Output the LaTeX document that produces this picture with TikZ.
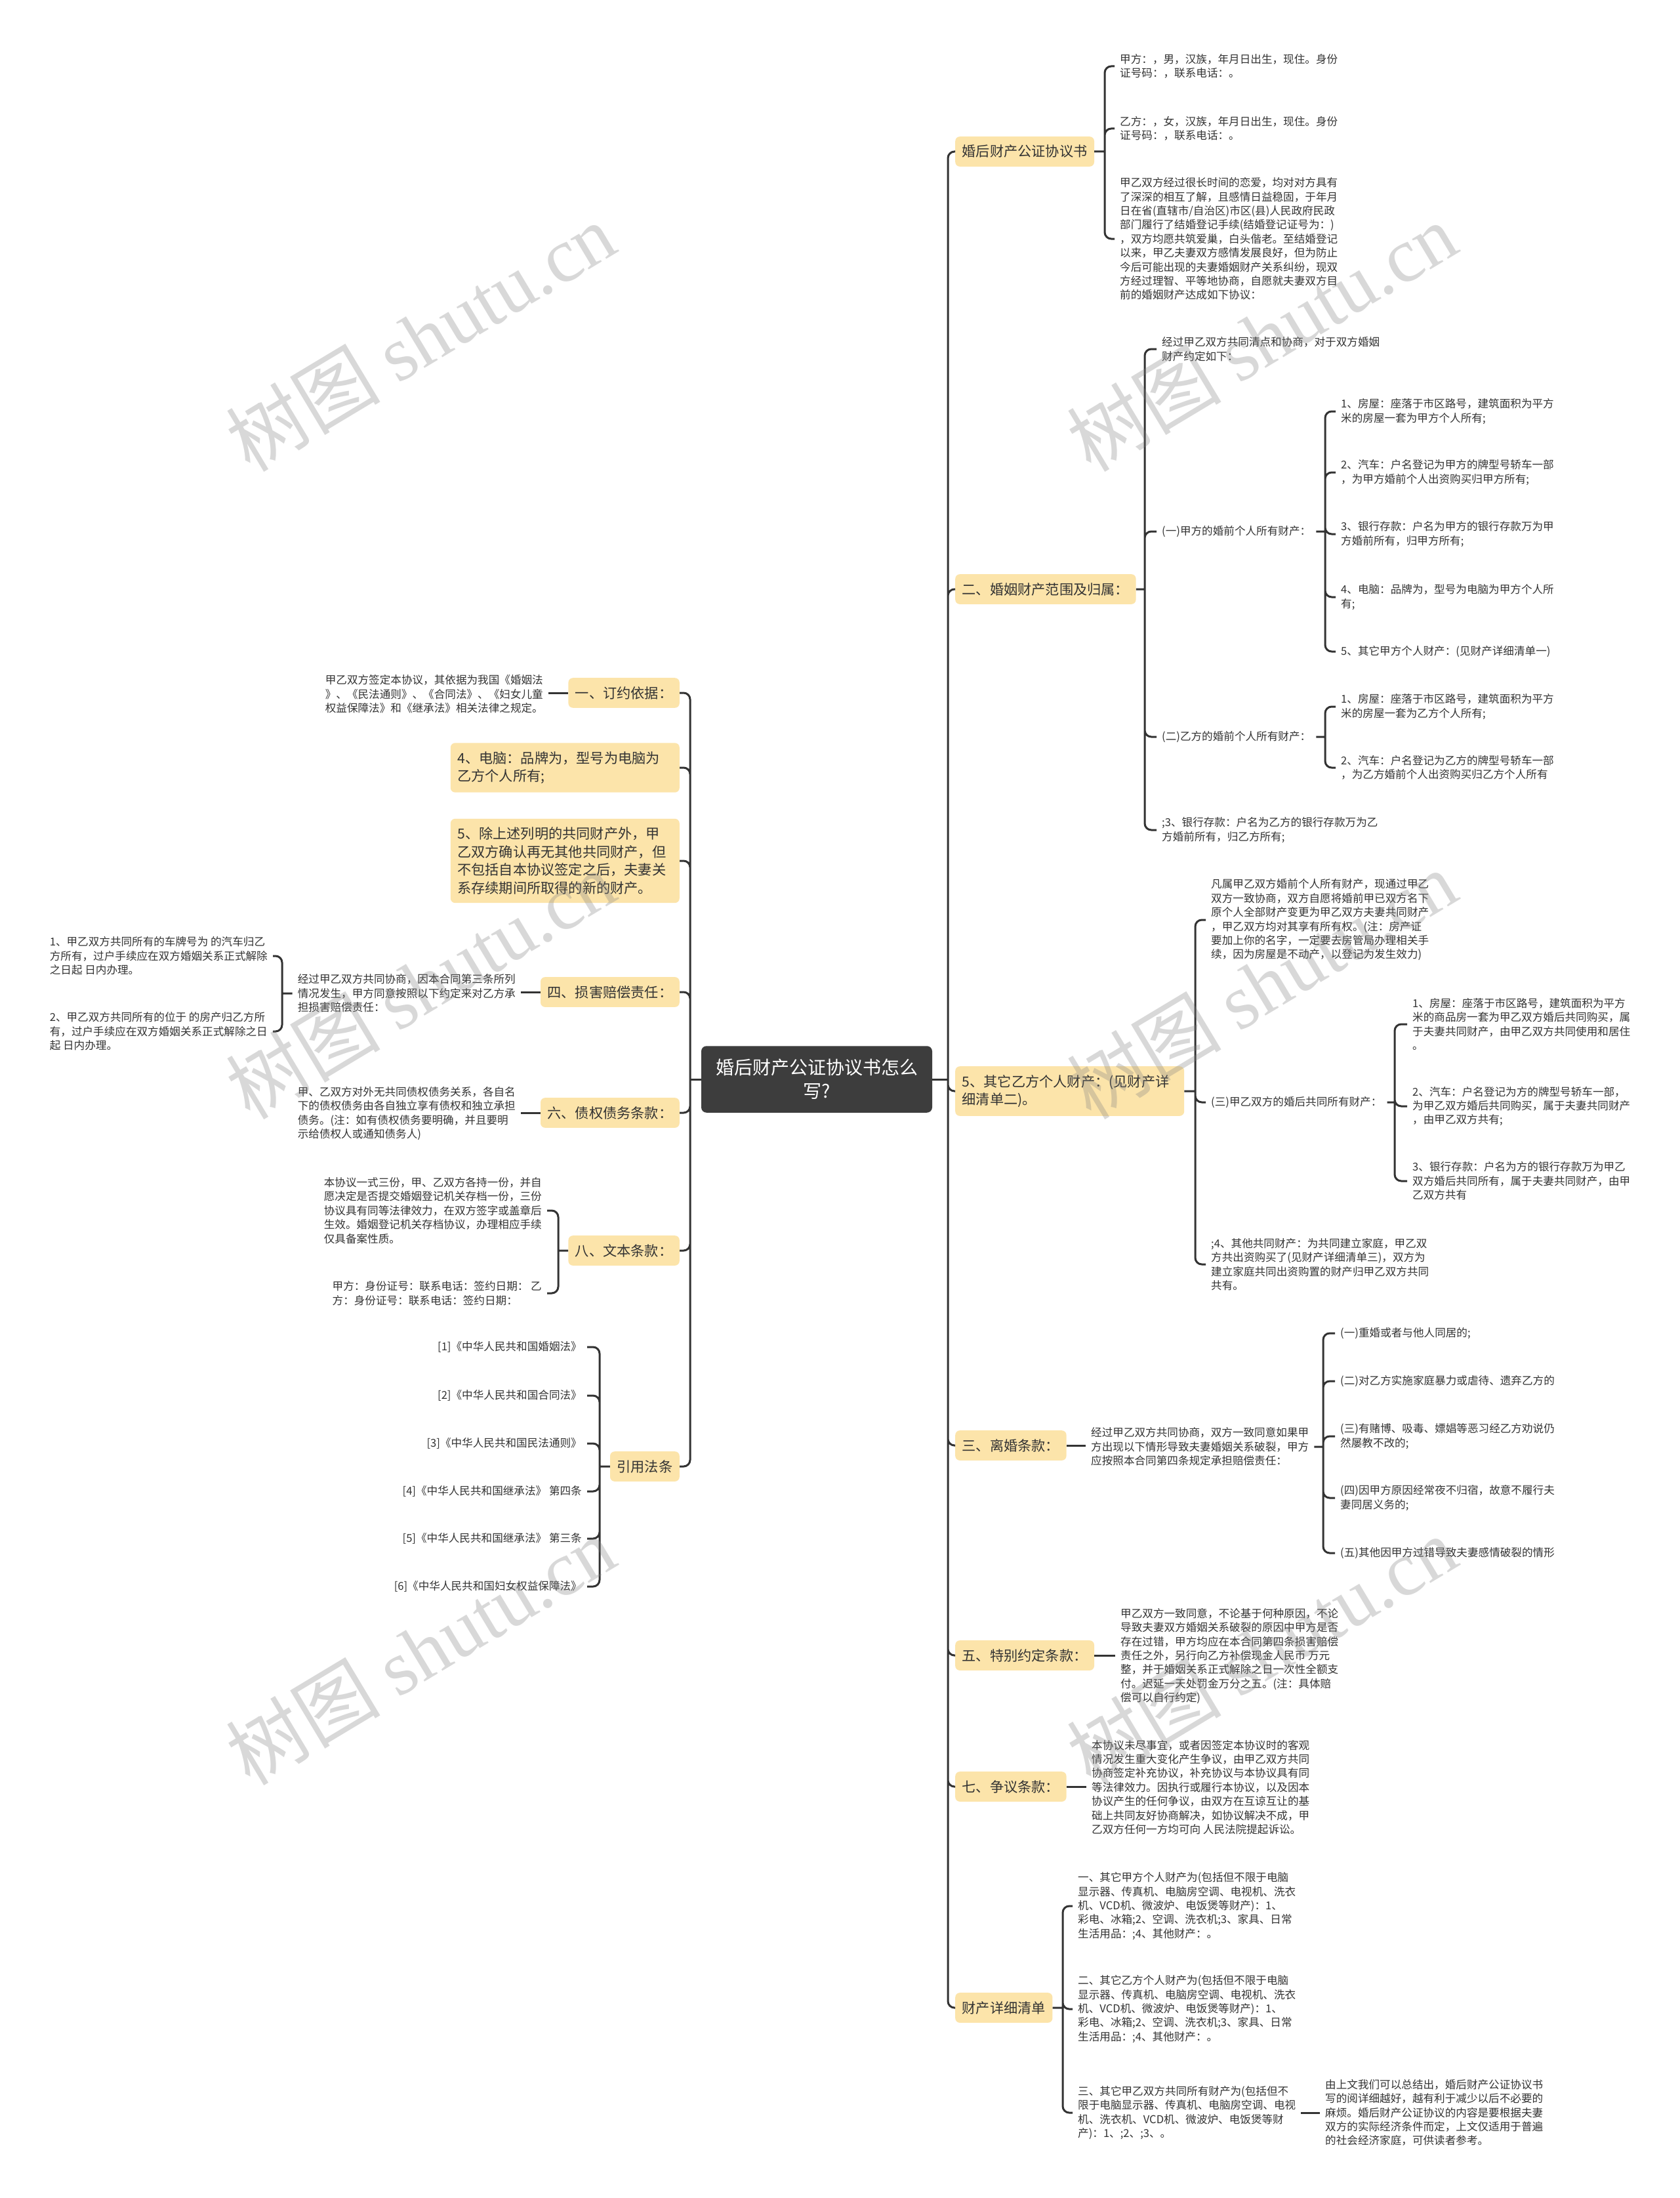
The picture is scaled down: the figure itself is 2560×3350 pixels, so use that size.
\documentclass[tikz,border=0pt]{standalone}
\usepackage{fontspec}
\usepackage{xcolor}
\usepackage{tikz}
\usetikzlibrary{positioning}
\newfontfamily\cjk{Noto Sans CJK SC}
\newfontfamily\wmlatin{Liberation Serif}
\definecolor{hubgray}{HTML}{3D3D3D}
\definecolor{topicfill}{HTML}{FCE4AA}
\definecolor{wiregray}{HTML}{333333}
\newcommand\hubfont{\cjk\fontsize{28}{36}\selectfont}
\newcommand\branchfont{\cjk\fontsize{21.2}{27.5}\selectfont}
\newcommand\notefont{\cjk\fontsize{16.6}{21.4}\selectfont}
\newcommand\wmtext{{\cjk 树图} {\wmlatin shutu.cn}}

\begin{document}
\begin{tikzpicture}[x=1pt,y=-1pt,
  hub/.style={fill=hubgray,text=white,rounded corners=8pt,font=\hubfont,align=center,inner xsep=22pt,inner ysep=20pt},
  branch/.style={fill=topicfill,text=wiregray,rounded corners=7pt,font=\branchfont,align=left,inner xsep=10.5pt,inner ysep=13pt},
  note/.style={text=wiregray,font=\notefont,align=left,inner xsep=8pt,inner ysep=2pt},
  wire/.style={draw=wiregray,line width=3pt,rounded corners=10pt},
  wmark/.style={text=gray,opacity=0.3,rotate=31,font=\cjk\fontsize{118}{118}\selectfont}]
\useasboundingbox[fill=white] (0,0) rectangle (2560,3350);

\node[hub] (root) at (1245,1645) {婚后财产公证协议书怎么\\写?};

% right side
\node[branch,anchor=west] (sign) at (1456,231) {婚后财产公证协议书};
\node[note,anchor=west] (signA) at (1699,101) {甲方：，男，汉族，年月日出生，现住。身份\\证号码：，联系电话：。};
\node[note,anchor=west] (signB) at (1699,196) {乙方：，女，汉族，年月日出生，现住。身份\\证号码：，联系电话：。};
\node[note,anchor=west] (signC) at (1699,364) {甲乙双方经过很长时间的恋爱，均对对方具有\\了深深的相互了解，且感情日益稳固，于年月\\日在省(直辖市/自治区)市区(县)人民政府民政\\部门履行了结婚登记手续(结婚登记证号为：)\\，双方均愿共筑爱巢，白头偕老。至结婚登记\\以来，甲乙夫妻双方感情发展良好，但为防止\\今后可能出现的夫妻婚姻财产关系纠纷，现双\\方经过理智、平等地协商，自愿就夫妻双方目\\前的婚姻财产达成如下协议：};

\node[branch,anchor=west] (own) at (1456,898) {二、婚姻财产范围及归属：};
\node[note,anchor=west] (ownA) at (1763,532) {经过甲乙双方共同清点和协商，对于双方婚姻\\财产约定如下：};
\node[note,anchor=west] (ownB) at (1763,810) {(一)甲方的婚前个人所有财产：};
\node[note,anchor=west] (preA) at (2036,627) {1、房屋：座落于市区路号，建筑面积为平方\\米的房屋一套为甲方个人所有;};
\node[note,anchor=west] (preB) at (2036,720) {2、汽车：户名登记为甲方的牌型号轿车一部\\，为甲方婚前个人出资购买归甲方所有;};
\node[note,anchor=west] (preC) at (2036,814) {3、银行存款：户名为甲方的银行存款万为甲\\方婚前所有，归甲方所有;};
\node[note,anchor=west] (preD) at (2036,910) {4、电脑：品牌为，型号为电脑为甲方个人所\\有;};
\node[note,anchor=west] (preE) at (2036,993) {5、其它甲方个人财产：(见财产详细清单一)};
\node[note,anchor=west] (ownC) at (1763,1123) {(二)乙方的婚前个人所有财产：};
\node[note,anchor=west] (prfA) at (2036,1077) {1、房屋：座落于市区路号，建筑面积为平方\\米的房屋一套为乙方个人所有;};
\node[note,anchor=west] (prfB) at (2036,1170) {2、汽车：户名登记为乙方的牌型号轿车一部\\，为乙方婚前个人出资购买归乙方个人所有};
\node[note,anchor=west] (ownD) at (1763,1265) {;3、银行存款：户名为乙方的银行存款万为乙\\方婚前所有，归乙方所有;};

\node[branch,anchor=west,text width=328pt] (other) at (1456,1663) {5、其它乙方个人财产：(见财产详\\细清单二)。};
\node[note,anchor=west] (otherA) at (1838,1402) {凡属甲乙双方婚前个人所有财产，现通过甲乙\\双方一致协商，双方自愿将婚前甲已双方名下\\原个人全部财产变更为甲乙双方夫妻共同财产\\，甲乙双方均对其享有所有权。(注：房产证\\要加上你的名字，一定要去房管局办理相关手\\续，因为房屋是不动产，以登记为发生效力)};
\node[note,anchor=west] (otherB) at (1838,1680) {(三)甲乙双方的婚后共同所有财产：};
\node[note,anchor=west] (jointA) at (2145,1561) {1、房屋：座落于市区路号，建筑面积为平方\\米的商品房一套为甲乙双方婚后共同购买，属\\于夫妻共同财产，由甲乙双方共同使用和居住\\。};
\node[note,anchor=west] (jointB) at (2145,1686) {2、汽车：户名登记为方的牌型号轿车一部，\\为甲乙双方婚后共同购买，属于夫妻共同财产\\，由甲乙双方共有;};
\node[note,anchor=west] (jointC) at (2145,1800) {3、银行存款：户名为方的银行存款万为甲乙\\双方婚后共同所有，属于夫妻共同财产，由甲\\乙双方共有};
\node[note,anchor=west] (otherC) at (1838,1927) {;4、其他共同财产：为共同建立家庭，甲乙双\\方共出资购买了(见财产详细清单三)，双方为\\建立家庭共同出资购置的财产归甲乙双方共同\\共有。};

\node[branch,anchor=west] (divorce) at (1456,2203) {三、离婚条款：};
\node[note,anchor=west] (divA) at (1655,2205) {经过甲乙双方共同协商，双方一致同意如果甲\\方出现以下情形导致夫妻婚姻关系破裂，甲方\\应按照本合同第四条规定承担赔偿责任：};
\node[note,anchor=west] (caseA) at (2035,2032) {(一)重婚或者与他人同居的;};
\node[note,anchor=west] (caseB) at (2035,2105) {(二)对乙方实施家庭暴力或虐待、遗弃乙方的};
\node[note,anchor=west] (caseC) at (2035,2189) {(三)有赌博、吸毒、嫖娼等恶习经乙方劝说仍\\然屡教不改的;};
\node[note,anchor=west] (caseD) at (2035,2283) {(四)因甲方原因经常夜不归宿，故意不履行夫\\妻同居义务的;};
\node[note,anchor=west] (caseE) at (2035,2367) {(五)其他因甲方过错导致夫妻感情破裂的情形};

\node[branch,anchor=west] (special) at (1456,2523) {五、特别约定条款：};
\node[note,anchor=west] (speA) at (1700,2524) {甲乙双方一致同意，不论基于何种原因，不论\\导致夫妻双方婚姻关系破裂的原因中甲方是否\\存在过错，甲方均应在本合同第四条损害赔偿\\责任之外，另行向乙方补偿现金人民币 万元\\整，并于婚姻关系正式解除之日一次性全额支\\付。迟延一天处罚金万分之五。(注：具体赔\\偿可以自行约定)};

\node[branch,anchor=west] (dispute) at (1456,2723) {七、争议条款：};
\node[note,anchor=west] (disA) at (1656,2724) {本协议未尽事宜，或者因签定本协议时的客观\\情况发生重大变化产生争议，由甲乙双方共同\\协商签定补充协议，补充协议与本协议具有同\\等法律效力。因执行或履行本协议，以及因本\\协议产生的任何争议，由双方在互谅互让的基\\础上共同友好协商解决，如协议解决不成，甲\\乙双方任何一方均可向 人民法院提起诉讼。};

\node[branch,anchor=west] (list) at (1456,3060) {财产详细清单};
\node[note,anchor=west] (listA) at (1635,2905) {一、其它甲方个人财产为(包括但不限于电脑\\显示器、传真机、电脑房空调、电视机、洗衣\\机、VCD机、微波炉、电饭煲等财产)：1、\\彩电、冰箱;2、空调、洗衣机;3、家具、日常\\生活用品：;4、其他财产：。};
\node[note,anchor=west] (listB) at (1635,3062) {二、其它乙方个人财产为(包括但不限于电脑\\显示器、传真机、电脑房空调、电视机、洗衣\\机、VCD机、微波炉、电饭煲等财产)：1、\\彩电、冰箱;2、空调、洗衣机;3、家具、日常\\生活用品：;4、其他财产：。};
\node[note,anchor=west] (listC) at (1635,3220) {三、其它甲乙双方共同所有财产为(包括但不\\限于电脑显示器、传真机、电脑房空调、电视\\机、洗衣机、VCD机、微波炉、电饭煲等财\\产)：1、;2、;3、。};
\node[note,anchor=west] (listD) at (2012,3220) {由上文我们可以总结出，婚后财产公证协议书\\写的阅详细越好，越有利于减少以后不必要的\\麻烦。婚后财产公证协议的内容是要根据夫妻\\双方的实际经济条件而定，上文仅适用于普遍\\的社会经济家庭，可供读者参考。};

% left side
\node[branch,anchor=east] (basis) at (1036,1056) {一、订约依据：};
\node[note,anchor=east] (basisA) at (836,1058) {甲乙双方签定本协议，其依据为我国《婚姻法\\》、《民法通则》、《合同法》、《妇女儿童\\权益保障法》和《继承法》相关法律之规定。};
\node[branch,anchor=east,text width=328pt] (pc) at (1036,1170) {4、电脑：品牌为，型号为电脑为\\乙方个人所有;};
\node[branch,anchor=east,text width=328pt] (rest) at (1036,1312) {5、除上述列明的共同财产外，甲\\乙双方确认再无其他共同财产，但\\不包括自本协议签定之后，夫妻关\\系存续期间所取得的新的财产。};
\node[branch,anchor=east] (damage) at (1036,1512) {四、损害赔偿责任：};
\node[note,anchor=east] (damA) at (794,1514) {经过甲乙双方共同协商，因本合同第三条所列\\情况发生，甲方同意按照以下约定来对乙方承\\担损害赔偿责任：};
\node[note,anchor=east] (damB) at (416,1457) {1、甲乙双方共同所有的车牌号为 的汽车归乙\\方所有，过户手续应在双方婚姻关系正式解除\\之日起 日内办理。};
\node[note,anchor=east] (damC) at (416,1572) {2、甲乙双方共同所有的位于 的房产归乙方所\\有，过户手续应在双方婚姻关系正式解除之日\\起 日内办理。};
\node[branch,anchor=east] (debt) at (1036,1696) {六、债权债务条款：};
\node[note,anchor=east] (debtA) at (794,1697) {甲、乙双方对外无共同债权债务关系，各自名\\下的债权债务由各自独立享有债权和独立承担\\债务。(注：如有债权债务要明确，并且要明\\示给债权人或通知债务人)};
\node[branch,anchor=east] (copies) at (1036,1906) {八、文本条款：};
\node[note,anchor=east] (copA) at (834,1845) {本协议一式三份，甲、乙双方各持一份，并自\\愿决定是否提交婚姻登记机关存档一份，三份\\协议具有同等法律效力，在双方签字或盖章后\\生效。婚姻登记机关存档协议，办理相应手续\\仅具备案性质。};
\node[note,anchor=east] (copB) at (834,1971) {甲方：身份证号：联系电话：签约日期： 乙\\方：身份证号：联系电话：签约日期：};
\node[branch,anchor=east] (laws) at (1036,2235) {引用法条};
\node[note,anchor=east,align=right] (lawA) at (895,2053) {[1]《中华人民共和国婚姻法》};
\node[note,anchor=east,align=right] (lawB) at (895,2127) {[2]《中华人民共和国合同法》};
\node[note,anchor=east,align=right] (lawC) at (895,2200) {[3]《中华人民共和国民法通则》};
\node[note,anchor=east,align=right] (lawD) at (895,2273) {[4]《中华人民共和国继承法》 第四条};
\node[note,anchor=east,align=right] (lawE) at (895,2345) {[5]《中华人民共和国继承法》 第三条};
\node[note,anchor=east,align=right] (lawF) at (895,2418) {[6]《中华人民共和国妇女权益保障法》};

% junctions
\coordinate (rj) at (1445,1645);
\coordinate (lj) at (1052,1645);
\coordinate (signJ) at (1684,231);
\coordinate (ownJ) at (1745,898);
\coordinate (preJ) at (2020,810);
\coordinate (prfJ) at (2020,1123);
\coordinate (otherJ) at (1822,1663);
\coordinate (jointJ) at (2126,1680);
\coordinate (caseJ) at (2017,2205);
\coordinate (listJ) at (1620,3060);
\coordinate (damJ) at (430,1514);
\coordinate (copJ) at (851,1906);
\coordinate (lawJ) at (914,2235);

% connectors
\draw[wire] (root.east) -- (rj) (root.west) -- (lj);
\draw[wire] (rj) |- (sign.west) (rj) |- (own.west) (rj) |- (other.west) (rj) |- (divorce.west)
            (rj) |- (special.west) (rj) |- (dispute.west) (rj) |- (list.west);
\draw[wire] (lj) |- (basis.east) (lj) |- (pc.east) (lj) |- (rest.east) (lj) |- (damage.east)
            (lj) |- (debt.east) (lj) |- (copies.east) (lj) |- (laws.east);

\draw[wire] (sign.east) -- (signJ) (signJ) |- (signA.west) (signJ) |- (signB.west) (signJ) |- (signC.west);
\draw[wire] (own.east) -- (ownJ) (ownJ) |- (ownA.west) (ownJ) |- (ownB.west) (ownJ) |- (ownC.west) (ownJ) |- (ownD.west);
\draw[wire] (ownB.east) -- (preJ) (preJ) |- (preA.west) (preJ) |- (preB.west) (preJ) |- (preC.west)
            (preJ) |- (preD.west) (preJ) |- (preE.west);
\draw[wire] (ownC.east) -- (prfJ) (prfJ) |- (prfA.west) (prfJ) |- (prfB.west);
\draw[wire] (other.east |- otherJ) -- (otherJ) (otherJ) |- (otherA.west) (otherJ) |- (otherB.west) (otherJ) |- (otherC.west);
\draw[wire] (otherB.east) -- (jointJ) (jointJ) |- (jointA.west) (jointJ) |- (jointB.west) (jointJ) |- (jointC.west);
\draw[wire] (divorce.east) -- (divA.west |- divorce.east);
\draw[wire] (divA.east) -- (caseJ) (caseJ) |- (caseA.west) (caseJ) |- (caseB.west) (caseJ) |- (caseC.west)
            (caseJ) |- (caseD.west) (caseJ) |- (caseE.west);
\draw[wire] (special.east) -- (speA.west |- special.east);
\draw[wire] (dispute.east) -- (disA.west |- dispute.east);
\draw[wire] (list.east) -- (listJ) (listJ) |- (listA.west) (listJ) |- (listB.west) (listJ) |- (listC.west);
\draw[wire] (listC.east) -- (listD.west);

\draw[wire] (basis.west) -- (basisA.east |- basis.west);
\draw[wire] (damage.west) -- (damA.east |- damage.west);
\draw[wire] (damA.west) -- (damJ) (damJ) |- (damB.east) (damJ) |- (damC.east);
\draw[wire] (debt.west) -- (debtA.east |- debt.west);
\draw[wire] (copies.west) -- (copJ) (copJ) |- (copA.east) (copJ) |- (copB.east);
\draw[wire] (laws.west) -- (lawJ) (lawJ) |- (lawA.east) (lawJ) |- (lawB.east) (lawJ) |- (lawC.east)
            (lawJ) |- (lawD.east) (lawJ) |- (lawE.east) (lawJ) |- (lawF.east);

% watermarks
\node[wmark] (wm1) at (641,513) {\wmtext};
\node[wmark] (wm2) at (1923,513) {\wmtext};
\node[wmark] (wm3) at (641,1500) {\wmtext};
\node[wmark] (wm4) at (1923,1500) {\wmtext};
\node[wmark] (wm5) at (641,2515) {\wmtext};
\node[wmark] (wm6) at (1923,2515) {\wmtext};
\end{tikzpicture}
\end{document}
